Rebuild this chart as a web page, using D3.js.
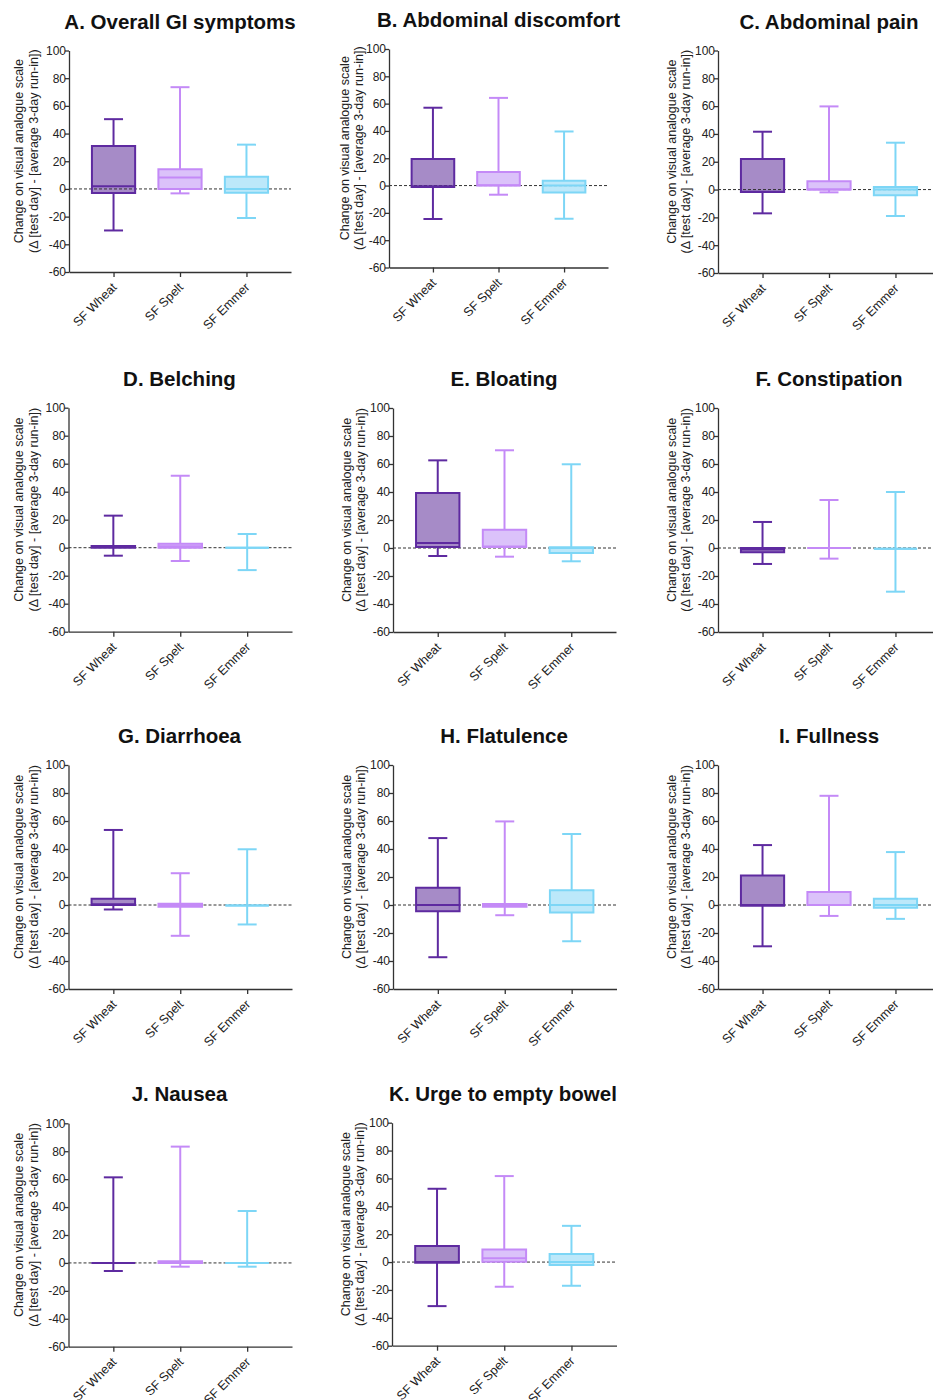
<!DOCTYPE html>
<html>
<head>
<meta charset="utf-8">
<script src="https://cdn.jsdelivr.net/npm/d3@7"></script>
<style>
  body { margin: 0; background: #fff; }
  svg { display: block; font-family: "Liberation Sans", Arial, sans-serif; }
</style>
</head>
<body>
<div id="chart"></div>
<script>
// panel titles, group names and y ticks
const panelTitles = [
  "A. Overall GI symptoms", "B. Abdominal discomfort", "C. Abdominal pain",
  "D. Belching", "E. Bloating", "F. Constipation",
  "G. Diarrhoea", "H. Flatulence", "I. Fullness",
  "J. Nausea", "K. Urge to empty bowel"
]
const groups = ["SF Wheat", "SF Spelt", "SF Emmer"]
const yTicks = [-60, -40, -20, 0, 20, 40, 60, 80, 100]

// box plot stats per panel, one value per group (Wheat, Spelt, Emmer)
const whiskerLow = [
  [-30, -3.2, -21], [-24.5, -6.7, -24.3], [-17.1, -2, -19],
  [-5.7, -9.5, -16], [-5.7, -6.2, -9.5], [-11.4, -7.6, -31.2],
  [-3.2, -22, -13.9], [-37.3, -7.3, -25.9], [-29.5, -7.8, -9.9],
  [-5.8, -2.7, -2.7], [-31.6, -17.7, -17]
]
const boxLow = [
  [-3, 0, -2.7], [-1, 0, -5], [-1.8, 0, -4],
  [0, 0, 0], [0.7, 0.7, -3.6], [-3, 0, -0.5],
  [0, -1.3, -0.3], [-4.4, -1.3, -5.4], [-0.6, 0, -2],
  [0, 0, 0], [-0.5, 0.3, -2.1]
]
const medians = [
  [2, 8.3, 0], [-0.5, 0.3, 0], [-1.5, 0, 0],
  [0.5, 1, 0], [3.6, 1, 0], [-1, 0, -0.5],
  [0.5, 0, -0.3], [0, 0, 0], [0, 0, 0],
  [0, 0.5, 0], [0, 2.7, 0]
]
const boxHigh = [
  [31, 14.3, 8.8], [19.5, 10, 3.6], [21.9, 5.9, 1.8],
  [1.3, 2.9, 0], [39.3, 13.1, 0.5], [0, 0, -0.5],
  [4.4, 0.9, -0.3], [12.3, 0.8, 10.6], [21.1, 9.2, 4.4],
  [0, 1.2, 0], [11.5, 9.1, 5.8]
]
const whiskerHigh = [
  [50.4, 73.5, 32], [57, 64.2, 39.6], [41.6, 59.8, 33.7],
  [22.9, 51.4, 9.8], [62.6, 69.8, 59.8], [18.6, 34.3, 40],
  [53.6, 22.7, 39.8], [47.8, 59.7, 50.7], [42.8, 78, 37.8],
  [61.3, 83.3, 37.2], [52.6, 61.7, 26]
]

const strokeColors = ["#5e2aa0", "#c48af7", "#7dd6f6"]
const fillColors = ["#a68bc7", "#dbc2fa", "#bce8fa"]

// panel frames: axis x, plot top, plot bottom, plot right, y-label centre x (2 lines)
const frames = [
  [69, 50.5, 272, 291, 18, 33],
  [389, 49, 267.5, 608, 344, 358],
  [718, 50.5, 273, 940, 671, 685.5],
  [68.5, 407.7, 631.7, 292, 18, 33],
  [393, 408, 632, 616, 346, 360.5],
  [718, 408, 632, 940, 671, 685.5],
  [68.5, 765, 989, 292, 18, 33],
  [393, 765, 989, 616.5, 346, 360.5],
  [718, 765, 989, 940, 671, 685.5],
  [68.5, 1123.3, 1346.7, 292, 18, 33],
  [392, 1122.7, 1345.7, 616.5, 345, 359.5]
]

const width = 933
const height = 1400

const svg = d3.select("#chart").append("svg")
  .attr("width", width)
  .attr("height", height)

panelTitles.forEach((title, p) => {
  const [ax, top, bottom, right, lx1, lx2] = frames[p]
  const g = svg.append("g")

  const y = d3.scaleLinear().domain([-60, 100]).range([bottom, top])
  const x = d3.scalePoint().domain(groups).range([ax, right]).padding(0.67)
  const step = x.step()
  const boxW = step * 0.65
  const capW = 19

  // title
  g.append("text")
    .attr("x", (ax + Math.min(right, ax + 222)) / 2)
    .attr("y", top - 22)
    .attr("text-anchor", "middle")
    .attr("font-size", 20.5)
    .attr("font-weight", "bold")
    .attr("fill", "#111")
    .text(title)

  // y axis label, two lines
  const midY = (top + bottom) / 2 - 10
  const ylab = ["Change on visual analogue scale", "(\u0394 [test day] - [average 3-day run-in])"]
  ;[lx1, lx2].forEach((lx, i) => {
    g.append("text")
      .attr("transform", `translate(${lx + 4.5},${midY}) rotate(-90)`)
      .attr("text-anchor", "middle")
      .attr("font-size", 12.5)
      .attr("fill", "#222")
      .text(ylab[i])
  })

  // axes
  const yAxis = g.append("g")
    .attr("transform", `translate(${ax},0)`)
    .call(d3.axisLeft(y).tickValues(yTicks).tickFormat(d => String(d))
      .tickSize(4).tickSizeOuter(0).tickPadding(-1))
  const xAxis = g.append("g")
    .attr("transform", `translate(0,${bottom})`)
    .call(d3.axisBottom(x).tickSize(5).tickSizeOuter(0).tickFormat(""))
  ;[yAxis, xAxis].forEach(a => {
    a.select(".domain").attr("stroke", "#333").attr("stroke-width", 1.3)
    a.selectAll(".tick line").attr("stroke", "#333").attr("stroke-width", 1.3)
  })
  yAxis.selectAll(".tick text")
    .attr("font-size", 12)
    .attr("font-family", "\"Liberation Sans\", Arial, sans-serif")
    .attr("fill", "#222")

  // rotated group labels
  g.selectAll("text.grp")
    .data(groups)
    .join("text")
    .attr("class", "grp")
    .attr("transform", d => `translate(${x(d) + 4},${bottom + 16}) rotate(-45)`)
    .attr("text-anchor", "end")
    .attr("font-size", 12.5)
    .attr("fill", "#222")
    .text(d => d)

  // box bodies (fill)
  const boxPath = (i) => {
    const cx = x(groups[i])
    const x0 = cx - boxW / 2, x1 = cx + boxW / 2
    const y0 = y(boxHigh[p][i]), y1 = y(boxLow[p][i])
    return `M${x0},${y0}H${x1}V${y1}H${x0}Z`
  }
  groups.forEach((grp, i) => {
    g.append("path")
      .attr("d", boxPath(i))
      .attr("fill", fillColors[i])
      .attr("stroke", "none")
  })

  // dashed zero line
  g.append("line")
    .attr("x1", ax).attr("x2", Math.min(right, width))
    .attr("y1", y(0)).attr("y2", y(0))
    .attr("stroke", "#333")
    .attr("stroke-width", 1)
    .attr("stroke-dasharray", "3,2")

  // whiskers, box outline and median
  groups.forEach((grp, i) => {
    const cx = x(grp)
    const col = strokeColors[i]
    const s = g.append("g")
      .attr("stroke", col)
      .attr("stroke-width", 2)
      .attr("fill", "none")

    s.append("line").attr("x1", cx).attr("x2", cx)
      .attr("y1", y(whiskerHigh[p][i])).attr("y2", y(boxHigh[p][i]))
    s.append("line").attr("x1", cx).attr("x2", cx)
      .attr("y1", y(boxLow[p][i])).attr("y2", y(whiskerLow[p][i]))
    s.append("line").attr("x1", cx - capW / 2).attr("x2", cx + capW / 2)
      .attr("y1", y(whiskerHigh[p][i])).attr("y2", y(whiskerHigh[p][i]))
    s.append("line").attr("x1", cx - capW / 2).attr("x2", cx + capW / 2)
      .attr("y1", y(whiskerLow[p][i])).attr("y2", y(whiskerLow[p][i]))

    s.append("path").attr("d", boxPath(i))
    s.append("line").attr("x1", cx - boxW / 2).attr("x2", cx + boxW / 2)
      .attr("y1", y(medians[p][i])).attr("y2", y(medians[p][i]))
  })
})
</script>
</body>
</html>
